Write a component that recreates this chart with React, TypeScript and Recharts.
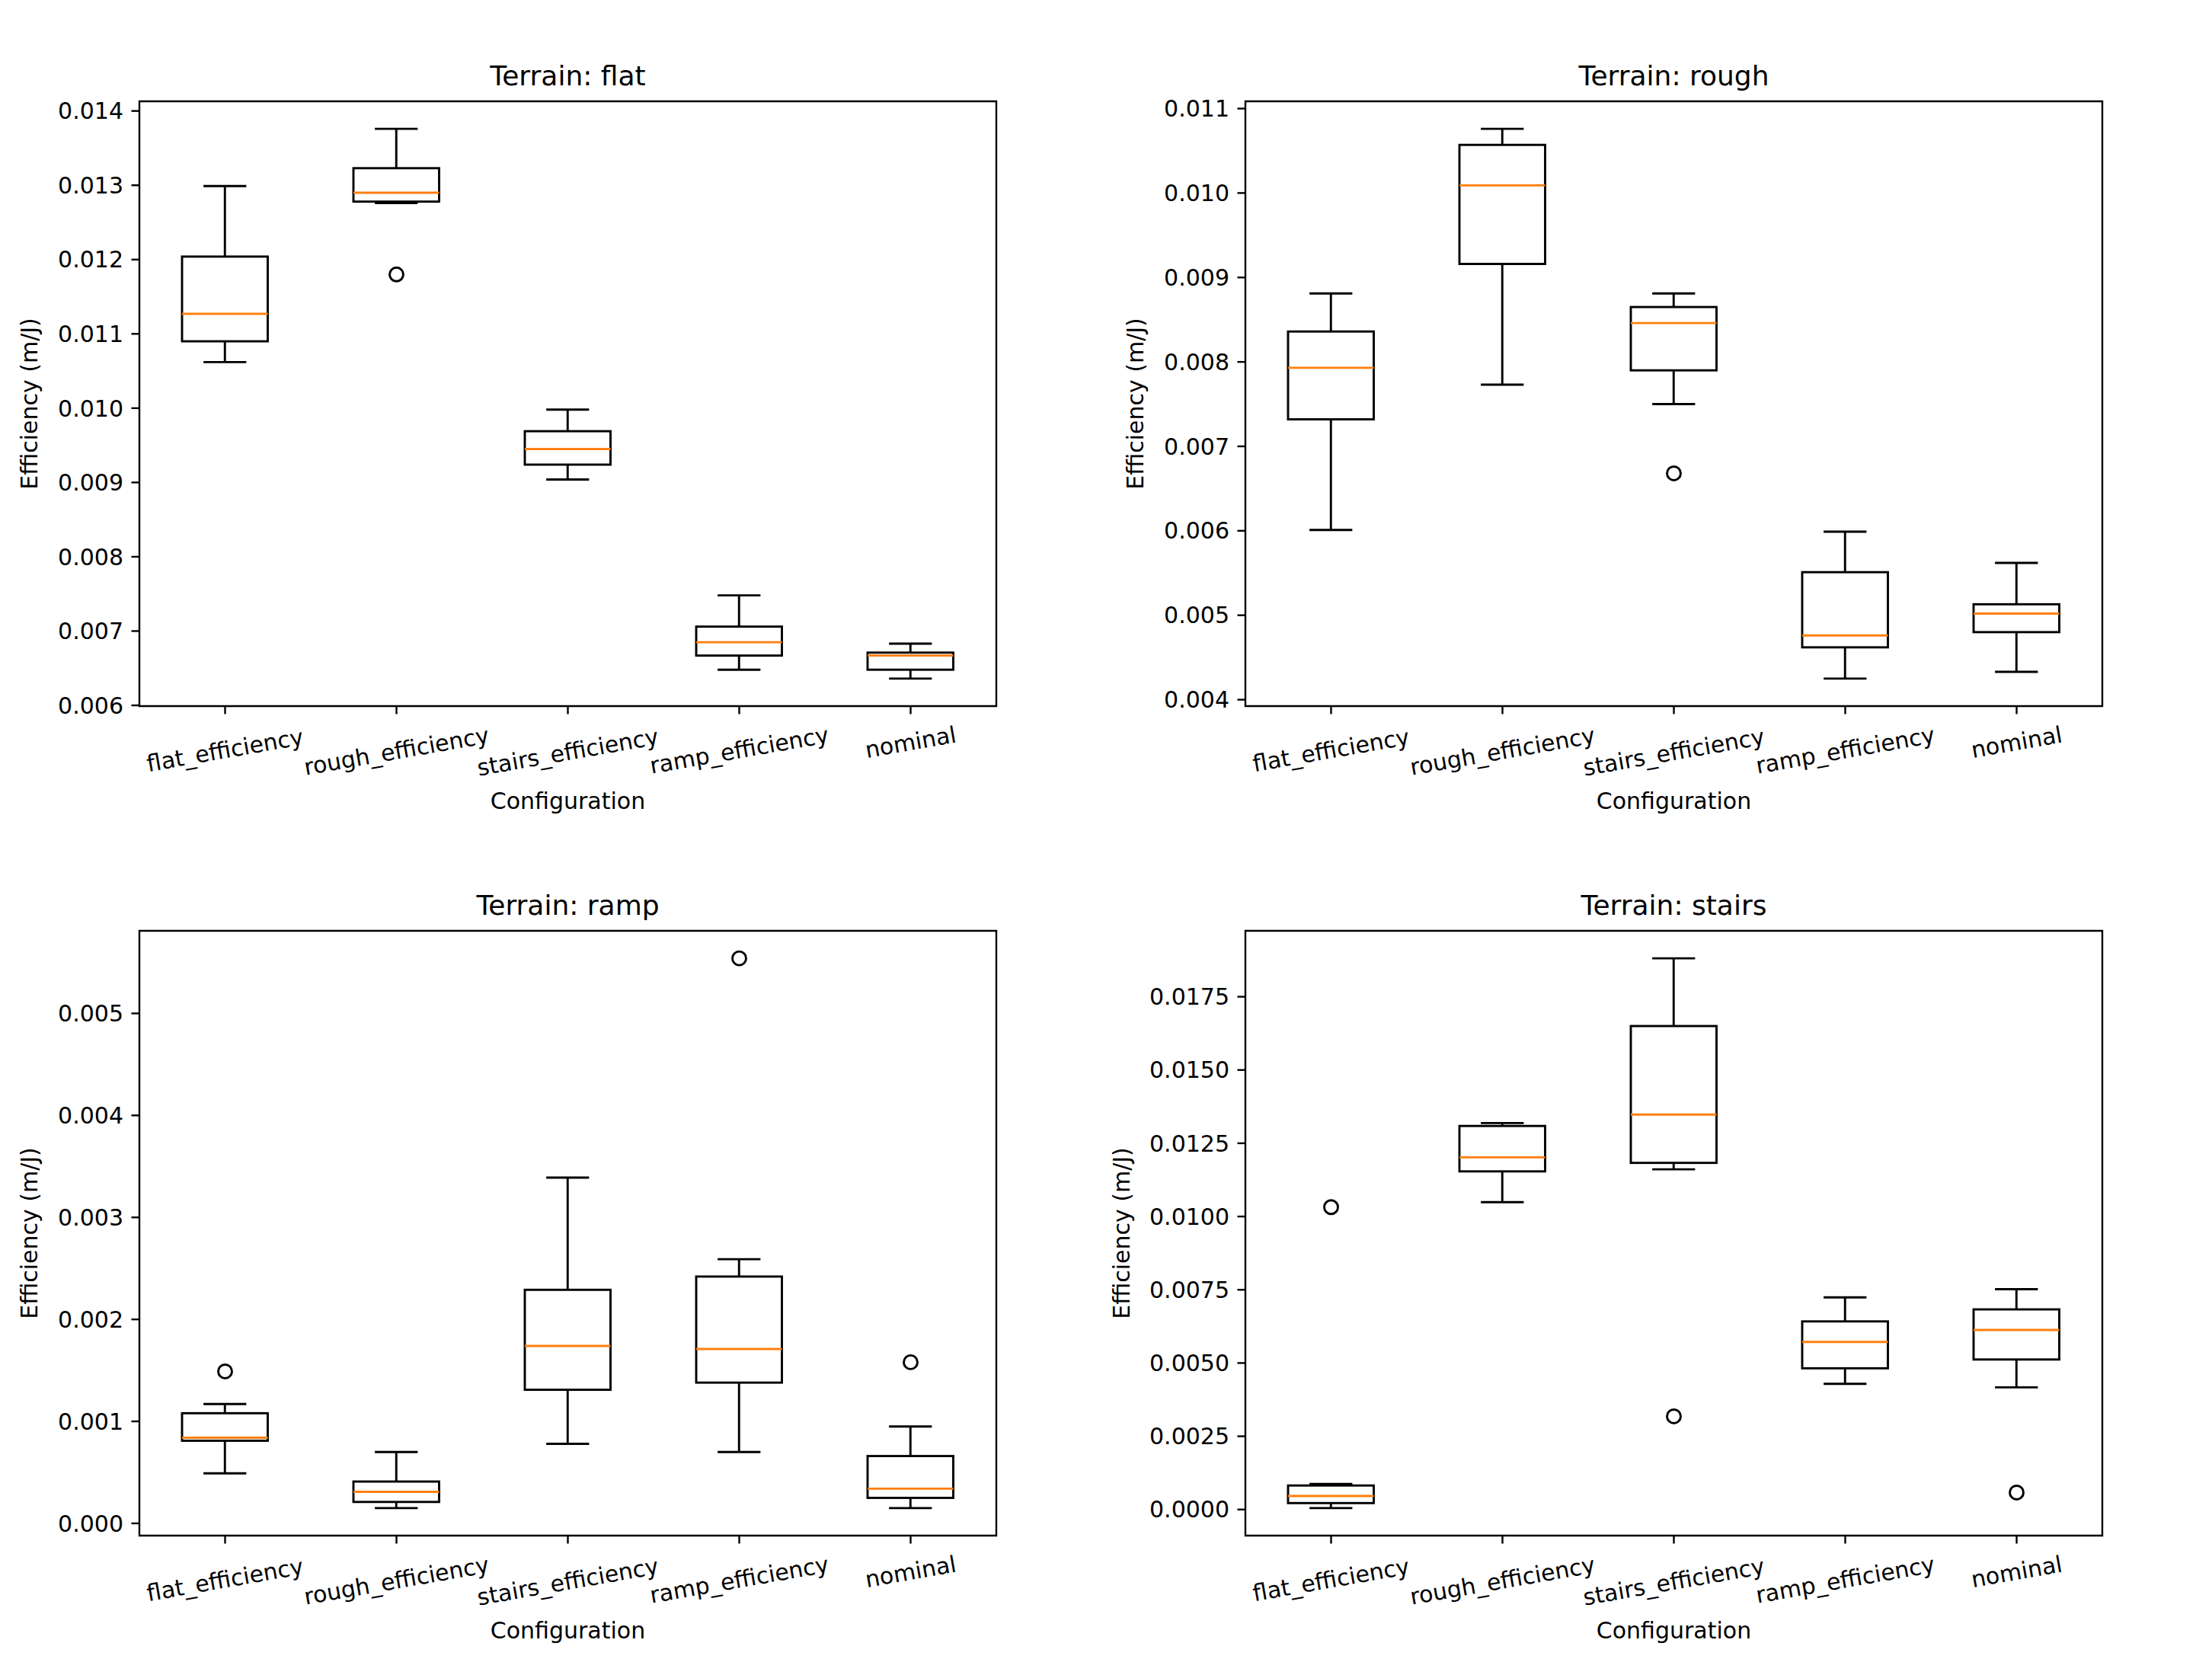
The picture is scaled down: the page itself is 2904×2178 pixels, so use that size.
import React from "react";
import { ComposedChart, Bar, Scatter, XAxis, YAxis, ReferenceArea } from "recharts";

const FONT = "'DejaVu Sans', sans-serif";
const ORANGE = "#ff7f0e";

const categories = ["flat_efficiency", "rough_efficiency", "stairs_efficiency", "ramp_efficiency", "nominal"];

// Terrain: flat
const flatLow = [0.01062, 0.01276, 0.00904, 0.00648, 0.00636];
const flatQ1 = [0.0109, 0.01278, 0.00924, 0.00667, 0.00648];
const flatMedian = [0.01127, 0.0129, 0.00945, 0.00685, 0.00667];
const flatQ3 = [0.01204, 0.01323, 0.00969, 0.00706, 0.00671];
const flatHigh = [0.01299, 0.01376, 0.00998, 0.00748, 0.00683];
const flatOutliers = [null, 0.0118, null, null, null];
const flatTicks = [0.006, 0.007, 0.008, 0.009, 0.01, 0.011, 0.012, 0.013, 0.014];
const flatDomain = [0.00599, 0.01413];

// Terrain: rough
const roughLow = [0.00601, 0.00773, 0.0075, 0.00425, 0.00433];
const roughQ1 = [0.00732, 0.00916, 0.0079, 0.00462, 0.0048];
const roughMedian = [0.00793, 0.01009, 0.00846, 0.00476, 0.00502];
const roughQ3 = [0.00836, 0.01057, 0.00865, 0.00551, 0.00513];
const roughHigh = [0.00881, 0.01076, 0.00881, 0.00599, 0.00562];
const roughOutliers = [null, null, 0.00668, null, null];
const roughTicks = [0.004, 0.005, 0.006, 0.007, 0.008, 0.009, 0.01, 0.011];
const roughDomain = [0.003924, 0.011086];

// Terrain: ramp
const rampLow = [0.00049, 0.00015, 0.00078, 0.0007, 0.00015];
const rampQ1 = [0.00081, 0.00021, 0.00131, 0.00138, 0.00025];
const rampMedian = [0.00084, 0.00031, 0.00174, 0.00171, 0.00034];
const rampQ3 = [0.00108, 0.00041, 0.00229, 0.00242, 0.00066];
const rampHigh = [0.00117, 0.0007, 0.00339, 0.00259, 0.00095];
const rampOutliers = [0.00149, null, null, 0.00554, 0.00158];
const rampTicks = [0, 0.001, 0.002, 0.003, 0.004, 0.005];
const rampDomain = [-0.00012, 0.00581];

// Terrain: stairs
const stairsLow = [0.00005, 0.01049, 0.01161, 0.00429, 0.00417];
const stairsQ1 = [0.00022, 0.01154, 0.01183, 0.00482, 0.00512];
const stairsMedian = [0.00046, 0.01202, 0.01348, 0.00572, 0.00613];
const stairsQ3 = [0.00082, 0.01309, 0.0165, 0.00642, 0.00683];
const stairsHigh = [0.00087, 0.01319, 0.01881, 0.00724, 0.00752];
const stairsOutliers = [0.01032, null, 0.00318, null, 0.00058];
const stairsTicks = [0, 0.0025, 0.005, 0.0075, 0.01, 0.0125, 0.015, 0.0175];
const stairsDomain = [-0.00089, 0.01975];

const buildRows = (low, q1, median, q3, high, outliers) =>
  categories.map((name, i) => ({
    name,
    whisker: [low[i], high[i]],
    low: low[i],
    q1: q1[i],
    median: median[i],
    q3: q3[i],
    high: high[i],
    outlier: outliers[i],
  }));

const panels = [
  { title: "Terrain: flat", rows: buildRows(flatLow, flatQ1, flatMedian, flatQ3, flatHigh, flatOutliers), ticks: flatTicks, domain: flatDomain, digits: 3 },
  { title: "Terrain: rough", rows: buildRows(roughLow, roughQ1, roughMedian, roughQ3, roughHigh, roughOutliers), ticks: roughTicks, domain: roughDomain, digits: 3 },
  { title: "Terrain: ramp", rows: buildRows(rampLow, rampQ1, rampMedian, rampQ3, rampHigh, rampOutliers), ticks: rampTicks, domain: rampDomain, digits: 3 },
  { title: "Terrain: stairs", rows: buildRows(stairsLow, stairsQ1, stairsMedian, stairsQ3, stairsHigh, stairsOutliers), ticks: stairsTicks, domain: stairsDomain, digits: 4 },
];

const CELL_W = 1452;
const CELL_H = 1089;
const LINE = 2.9;

// box + whiskers, drawn inside the bar that spans the whisker range
const BoxShape = (props) => {
  const { x, y, width, height } = props;
  const row = props.payload ?? props;
  const top = height < 0 ? y + height : y;
  const h = Math.abs(height);
  const span = row.high - row.low || 1;
  const py = (v) => top + ((row.high - v) / span) * h;
  const cx = x + width / 2;
  const cap = width / 4;
  return (
    <g fill="none" stroke="#000" strokeWidth={LINE}>
      <line x1={cx} x2={cx} y1={py(row.high)} y2={py(row.q3)} />
      <line x1={cx} x2={cx} y1={py(row.q1)} y2={py(row.low)} />
      <line x1={cx - cap} x2={cx + cap} y1={py(row.high)} y2={py(row.high)} />
      <line x1={cx - cap} x2={cx + cap} y1={py(row.low)} y2={py(row.low)} />
      <rect x={x} y={py(row.q3)} width={width} height={py(row.q1) - py(row.q3)} />
      <line x1={x} x2={x + width} y1={py(row.median)} y2={py(row.median)} stroke={ORANGE} />
    </g>
  );
};

const OutlierShape = (props) => {
  const { cx, cy, payload } = props;
  if (!payload || payload.outlier == null || cx == null || cy == null) return <g />;
  return <circle cx={cx} cy={cy} r={9} fill="none" stroke="#000" strokeWidth={LINE} />;
};

const XTick = ({ x, y, payload }) => {
  const text = String(payload.value);
  const w = text.length * 0.5 * 30;
  const cy = y + (w * Math.sin(Math.PI / 18) + 35 * Math.cos(Math.PI / 18)) / 2;
  return (
    <text
      x={x}
      y={cy}
      textAnchor="middle"
      dominantBaseline="central"
      fontSize={30}
      fontFamily={FONT}
      fill="#000"
      transform={`rotate(-10, ${x}, ${cy})`}
    >
      {text}
    </text>
  );
};

const BoxPanel = ({ panel }) => {
  const labelX = 38 - (panel.digits - 3) * 18;
  return (
    <ComposedChart
      width={CELL_W}
      height={CELL_H}
      data={panel.rows}
      margin={{ top: 133, right: 144, bottom: 0, left: 0 }}
    >
      <XAxis
        dataKey="name"
        type="category"
        height={162}
        interval={0}
        axisLine={false}
        tickSize={10.5}
        tickMargin={10.5}
        tickLine={{ stroke: "#000", strokeWidth: 2.4 }}
        tick={(p) => <XTick {...p} />}
        label={(p) => {
          const vb = p.viewBox || { x: 0, y: 0, width: 0, height: 0 };
          return (
            <text x={vb.x + vb.width / 2} y={vb.y + 135} textAnchor="middle" fontSize={30} fontFamily={FONT} fill="#000">
              Configuration
            </text>
          );
        }}
      />
      <YAxis
        type="number"
        width={183}
        domain={panel.domain}
        ticks={panel.ticks}
        interval={0}
        allowDataOverflow
        axisLine={false}
        tickSize={10.5}
        tickMargin={10.5}
        tickLine={{ stroke: "#000", strokeWidth: 2.4 }}
        tick={{ fontSize: 30, fontFamily: FONT, fill: "#000" }}
        tickFormatter={(v) => Number(v).toFixed(panel.digits)}
        label={(p) => {
          const vb = p.viewBox || { x: 0, y: 0, width: 0, height: 0 };
          const cy = vb.y + vb.height / 2;
          return (
            <text
              x={vb.x + labelX}
              y={cy}
              textAnchor="middle"
              dominantBaseline="central"
              fontSize={30}
              fontFamily={FONT}
              fill="#000"
              transform={`rotate(-90, ${vb.x + labelX}, ${cy})`}
            >
              Efficiency (m/J)
            </text>
          );
        }}
      />
      <ReferenceArea
        y1={panel.domain[0]}
        y2={panel.domain[1]}
        fill="none"
        fillOpacity={0}
        stroke="#000"
        strokeWidth={2.4}
        ifOverflow="visible"
        label={(p) => {
          const vb = p.viewBox || { x: 0, y: 0, width: 0, height: 0 };
          return (
            <text x={vb.x + vb.width / 2} y={vb.y - 21} textAnchor="middle" fontSize={36} fontFamily={FONT} fill="#000">
              {panel.title}
            </text>
          );
        }}
      />
      <Bar dataKey="whisker" barSize={112.5} shape={(p) => <BoxShape {...p} />} isAnimationActive={false} />
      <Scatter dataKey="outlier" shape={(p) => <OutlierShape {...p} />} isAnimationActive={false} />
    </ComposedChart>
  );
};

export default function App() {
  return (
    <div style={{ position: "absolute", left: 0, top: 0, width: 2904, height: 2178, background: "#fff" }}>
      {panels.map((panel, i) => (
        <div
          key={panel.title}
          style={{ position: "absolute", left: (i % 2) * CELL_W, top: Math.floor(i / 2) * CELL_H }}
        >
          <BoxPanel panel={panel} />
        </div>
      ))}
    </div>
  );
}
